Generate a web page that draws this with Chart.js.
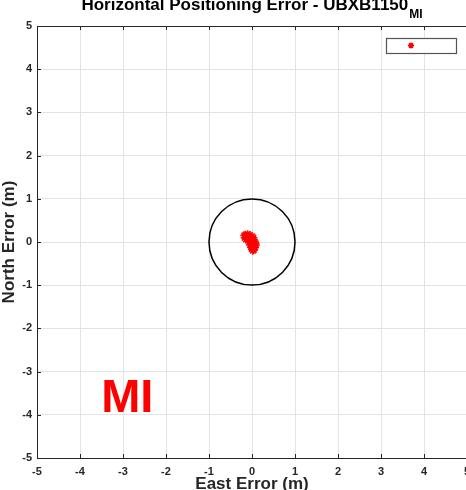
<!DOCTYPE html>
<html>
<head>
<meta charset="utf-8">
<script src="https://cdn.jsdelivr.net/npm/chart.js@4.4.1/dist/chart.umd.min.js"></script>
<style>
  html, body { margin: 0; padding: 0; background: #fff; overflow: hidden; }
  canvas { display: block; }
</style>
</head>
<body>
<canvas id="hpeChart" width="480" height="490"></canvas>
<script>
// Erro de posicionamento (m) - leste / norte
const eastError = [-0.18, -0.15, -0.10, -0.05, 0.00, 0.03, -0.17, -0.12, -0.07, -0.02, 0.04, -0.14, -0.09, -0.04, 0.01, 0.06,
                   -0.06, -0.02, 0.03, 0.08, -0.04, 0.01, 0.06, 0.09, -0.02, 0.03, 0.07, 0.00, 0.04, 0.02];
const northError = [0.15, 0.17, 0.18, 0.16, 0.13, 0.10, 0.10, 0.12, 0.10, 0.08, 0.05, 0.06, 0.04, 0.03, 0.02, 0.01,
                    -0.01, -0.03, -0.04, -0.03, -0.07, -0.08, -0.09, -0.07, -0.12, -0.13, -0.13, -0.16, -0.18, -0.20];
const axisTicks = [-5, -4, -3, -2, -1, 0, 1, 2, 3, 4, 5];
const circleRadius = [1];          // circulo de referencia (m)
const labelText = ['MI'];
const labelPos = [-2.9, -3.93];    // posicao do texto MI (x, y em metros)

const FONT = '"Liberation Sans", Arial, sans-serif';
const AXIS_COLOR = '#262626';

const points = eastError.map((x, i) => ({ x: x, y: northError[i] }));

// Desenha titulo, circulo, marcas internas, caixa da legenda e texto MI
const extras = {
    id: 'extras',
    afterDatasetsDraw(chart) {
        const { ctx, scales: { x, y } } = chart;
        ctx.save();
        // circulo de raio 1 m
        const cx = x.getPixelForValue(0), cy = y.getPixelForValue(0);
        const r = x.getPixelForValue(circleRadius[0]) - cx;
        ctx.beginPath();
        ctx.arc(cx, cy, r, 0, Math.PI * 2);
        ctx.strokeStyle = '#000';
        ctx.lineWidth = 1.5;
        ctx.stroke();
        ctx.restore();
    },
    afterDraw(chart) {
        const { ctx, chartArea: a, scales: { x, y } } = chart;
        ctx.save();
        ctx.strokeStyle = AXIS_COLOR;
        ctx.lineWidth = 1;
        // linha superior (box on)
        ctx.beginPath();
        ctx.moveTo(a.left, a.top + 0.5);
        ctx.lineTo(a.right, a.top + 0.5);
        ctx.stroke();
        // marcas internas
        ctx.beginPath();
        axisTicks.forEach(v => {
            const px = Math.round(x.getPixelForValue(v)) + 0.5;
            ctx.moveTo(px, a.bottom); ctx.lineTo(px, a.bottom - 4);
            ctx.moveTo(px, a.top); ctx.lineTo(px, a.top + 4);
            const py = Math.round(y.getPixelForValue(v)) + 0.5;
            ctx.moveTo(a.left, py); ctx.lineTo(a.left + 4, py);
        });
        ctx.stroke();

        // caixa da legenda
        const bx = a.right - 81, by = a.top + 12, bw = 70, bh = 15;
        ctx.fillStyle = '#fff';
        ctx.fillRect(bx, by, bw, bh);
        ctx.strokeStyle = '#555';
        ctx.lineWidth = 1.2;
        ctx.strokeRect(bx + 0.5, by + 0.5, bw, bh);
        const sx = bx + 25, sy = by + 7.5, sr = 3;
        ctx.strokeStyle = '#ff0000';
        ctx.lineWidth = 1.5;
        ctx.beginPath();
        for (let k = 0; k < 4; k++) {
            const ang = k * Math.PI / 4;
            ctx.moveTo(sx - sr * Math.cos(ang), sy - sr * Math.sin(ang));
            ctx.lineTo(sx + sr * Math.cos(ang), sy + sr * Math.sin(ang));
        }
        ctx.stroke();

        // texto MI
        ctx.fillStyle = '#ff0000';
        ctx.font = 'bold 47px ' + FONT;
        ctx.textAlign = 'center';
        ctx.textBaseline = 'alphabetic';
        ctx.fillText(labelText[0], x.getPixelForValue(labelPos[0]), y.getPixelForValue(labelPos[1]));

        // titulo com subscrito
        const main = 'Horizontal Positioning Error - UBXB1150';
        const sub = 'MI';
        ctx.fillStyle = '#000';
        ctx.font = 'bold 17px ' + FONT;
        const wMain = ctx.measureText(main).width;
        ctx.font = 'bold 12px ' + FONT;
        const wSub = ctx.measureText(sub).width;
        const start = (a.left + a.right) / 2 - (wMain + wSub + 1) / 2;
        ctx.textAlign = 'left';
        ctx.font = 'bold 17px ' + FONT;
        ctx.fillText(main, start, 10);
        ctx.font = 'bold 12px ' + FONT;
        ctx.fillText(sub, start + wMain + 1, 18);
        ctx.restore();
    }
};

const tickFont = { size: 11, weight: 'bold', family: FONT };

new Chart(document.getElementById('hpeChart').getContext('2d'), {
    type: 'scatter',
    data: {
        datasets: [{
            data: points,
            pointStyle: 'star',
            pointRadius: 4,
            borderColor: '#ff0000',
            backgroundColor: '#ff0000',
            borderWidth: 1.5,
        }],
    },
    options: {
        responsive: false,
        animation: false,
        layout: { padding: { top: 26, right: 13, left: 0, bottom: 0 } },
        plugins: { legend: { display: false }, tooltip: { enabled: false } },
        scales: {
            x: {
                type: 'linear',
                min: -5, max: 5,
                afterBuildTicks: s => { s.ticks = axisTicks.map(v => ({ value: v })); },
                afterFit: s => { s.height = 32; },
                grid: { color: '#e3e3e3', drawTicks: false },
                border: { color: AXIS_COLOR, width: 1 },
                ticks: { color: AXIS_COLOR, font: tickFont, padding: 7, maxRotation: 0 },
                title: { display: true, text: 'East Error (m)', color: AXIS_COLOR,
                         font: { size: 17, weight: 'bold', family: FONT, lineHeight: 0.7 }, padding: 0 },
            },
            y: {
                type: 'linear',
                min: -5, max: 5,
                afterBuildTicks: s => { s.ticks = axisTicks.map(v => ({ value: v })); },
                afterFit: s => { s.width = 37; },
                grid: { color: '#e3e3e3', drawTicks: false },
                border: { color: AXIS_COLOR, width: 1 },
                ticks: { color: AXIS_COLOR, font: tickFont, padding: 5 },
                title: { display: true, text: 'North Error (m)', color: AXIS_COLOR,
                         font: { size: 17, weight: 'bold', family: FONT, lineHeight: 1.1 }, padding: 0 },
            },
        },
    },
    plugins: [extras],
});
</script>
</body>
</html>
